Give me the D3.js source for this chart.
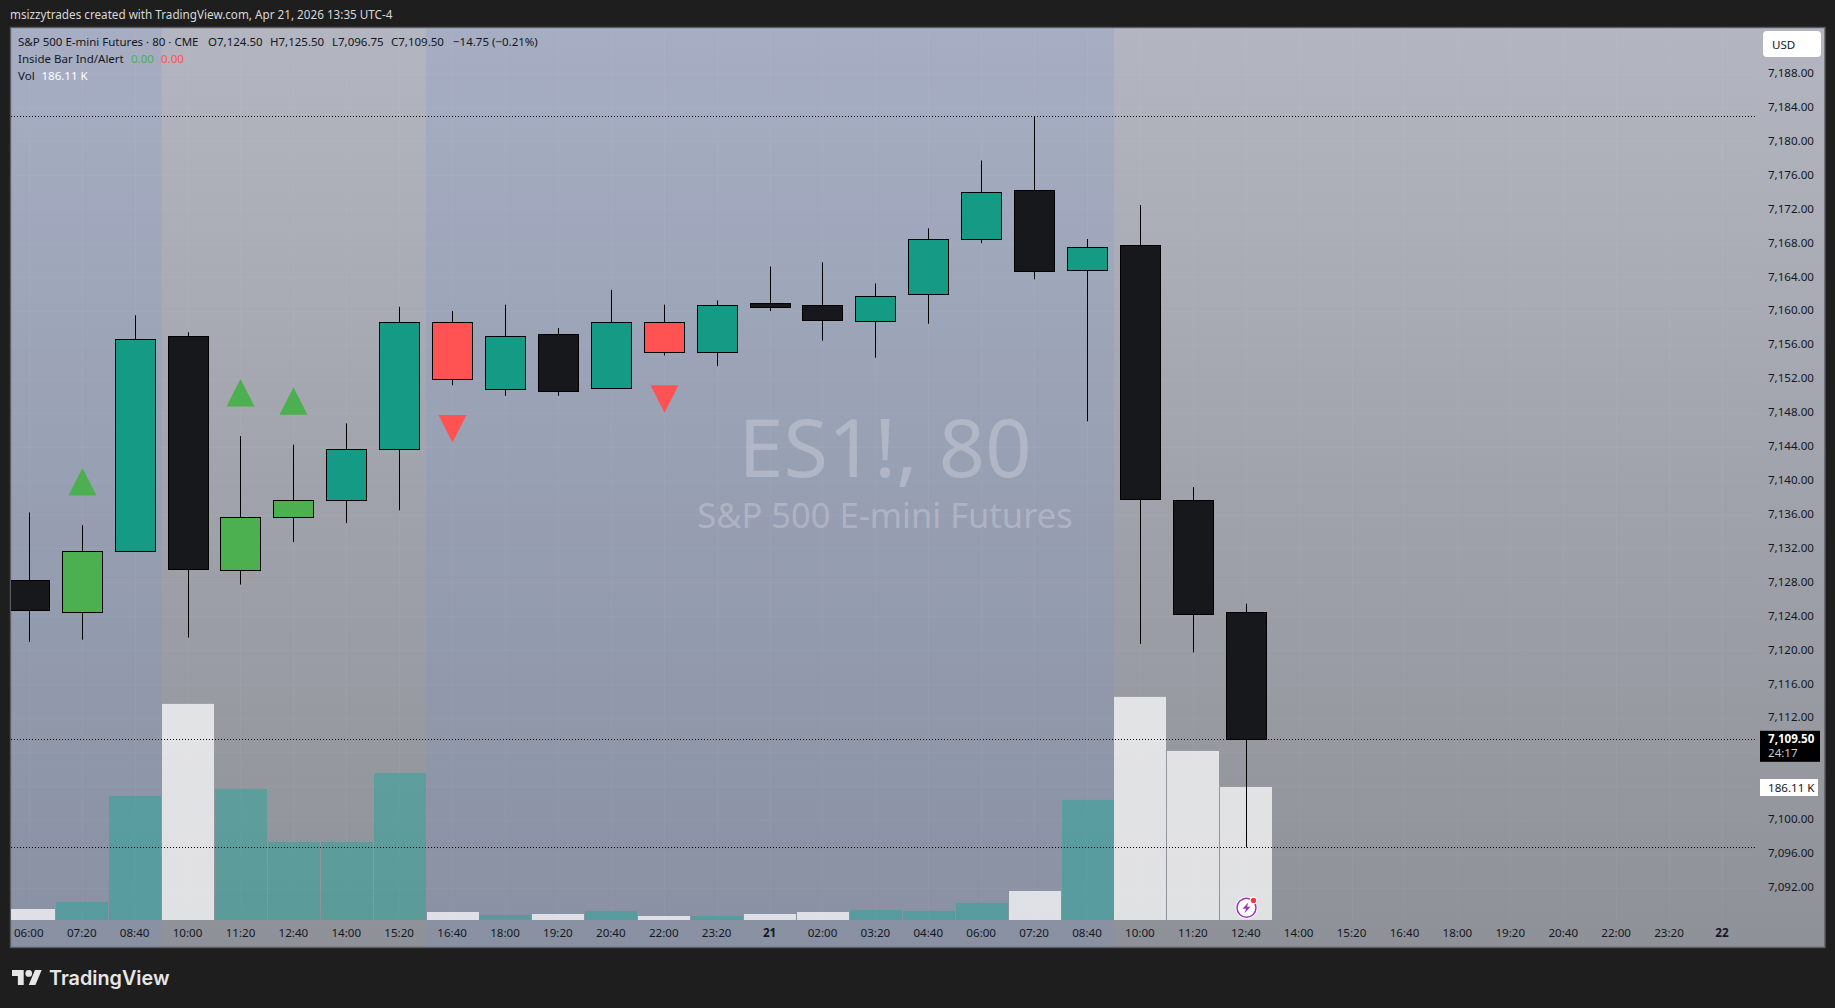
<!DOCTYPE html>
<html>
<head>
<meta charset="utf-8">
<script src="https://cdn.jsdelivr.net/npm/d3@7"></script>
<style>
html, body { margin: 0; padding: 0; background: #1e1e1e; }
svg { display: block; }
text { font-family: "Noto Sans", sans-serif; }
</style>
</head>
<body>
<svg id="chart"></svg>
<script>
const timeLabels = ["06:00","07:20","08:40","10:00","11:20","12:40","14:00","15:20","16:40","18:00","19:20","20:40","22:00","23:20","21","02:00","03:20","04:40","06:00","07:20","08:40","10:00","11:20","12:40","14:00","15:20","16:40","18:00","19:20","20:40","22:00","23:20","22"];
const dayLabels = ["21","22"];
const priceTicks = [7188,7184,7180,7176,7172,7168,7164,7160,7156,7152,7148,7144,7140,7136,7132,7128,7124,7120,7116,7112,7108,7104,7100,7096,7092];
const hiddenPriceLabels = [7108,7104];

const opens  = [7128.25,7124.5,7131.75,7157,7129.5,7135.75,7137.75,7143.75,7158.75,7150.75,7157.25,7151,7158.75,7155.25,7161,7160.75,7158.75,7162,7168.5,7174.25,7164.75,7167.75,7137.75,7124.5];
const highs  = [7136.25,7134.75,7159.5,7157.5,7145.25,7144.25,7146.75,7160.5,7160,7160.75,7158,7162.5,7160.75,7161.25,7165.25,7165.75,7163.25,7169.75,7177.75,7183,7168.5,7172.5,7139.25,7125.5];
const lows   = [7121,7121.25,7131.75,7121.5,7127.75,7132.75,7135,7136.5,7151.25,7150,7150,7151,7154.75,7153.5,7160,7156.5,7154.5,7158.5,7168,7163.75,7147,7120.75,7119.75,7096.75];
const closes = [7124.75,7131.75,7156.75,7129.5,7135.75,7137.75,7143.75,7158.75,7152,7157,7150.5,7158.75,7155.25,7160.75,7160.5,7159,7161.75,7168.5,7174,7164.75,7167.5,7137.75,7124.25,7109.5];
const volumes = [15.4,25.2,173.6,302.4,183.4,109.2,109.2,205.8,11.2,7,8.4,12.6,5.6,5.6,8.4,11.2,14,12.6,23.8,40.6,168,312.2,236.6,186.11];
const insideUpBars = [1,4,5];
const insideDownBars = [8,12];
const upMarkers = [[1,7141.5],[4,7152],[5,7151]];
const downMarkers = [[8,7144.5],[12,7148]];
const sessionBars = [[3,8],[21,33]];
const dottedPrices = [7183,7109.5,7096.75];

const width = 1835;
const height = 1008;
const PANE_LEFT = 11;
const PANE_RIGHT = 1757;
const PANE_TOP = 28;
const PANE_BOTTOM = 920;
const FRAME_BOTTOM = 947;
const FRAME_RIGHT = 1825;
const BODY_HALF = 20;
const VOL_HALF = 26;
const MARKER_HALF = 14;
const MARKER_HEIGHT = 27.5;
const INK = "#131722";

const svg = d3.select("#chart").attr("width", width).attr("height", height);

const x = d3.scaleLinear().domain([0, 32]).range([29.3, 1722.42]);
const y = d3.scaleLinear().domain([7188, 7092]).range([73.6, 887.7]);
const yVol = d3.scaleLinear().domain([0, 186.11]).range([PANE_BOTTOM, 787]);
const crispX = v => Math.floor(v) + 0.5;
const crispY = v => Math.round(v) + 0.5;

const defs = svg.append("defs");
const grad = defs.append("linearGradient").attr("id", "bg").attr("x1", 0).attr("y1", 0).attr("x2", 0).attr("y2", 1);
grad.append("stop").attr("offset", 0).attr("stop-color", "#b3b5c0");
grad.append("stop").attr("offset", 1).attr("stop-color", "#8f9198");
defs.append("clipPath").attr("id", "pane").append("rect")
   .attr("x", PANE_LEFT).attr("y", PANE_TOP)
   .attr("width", PANE_RIGHT - PANE_LEFT).attr("height", PANE_BOTTOM - PANE_TOP);

// frame + background
svg.append("rect").attr("x", 10.5).attr("y", 27.5)
   .attr("width", FRAME_RIGHT - 10.5).attr("height", FRAME_BOTTOM - 27)
   .attr("fill", "url(#bg)").attr("stroke", "#5a5b60").attr("stroke-width", 1.4);

// out of session shading
const bands = [[0, sessionBars[0][0]], [sessionBars[0][1], sessionBars[1][0]]];
svg.append("g").selectAll("rect").data(bands).enter().append("rect")
   .attr("x", d => d[0] === 0 ? PANE_LEFT : x(d[0] - 0.5))
   .attr("y", PANE_TOP)
   .attr("width", d => x(d[1] - 0.5) - (d[0] === 0 ? PANE_LEFT : x(d[0] - 0.5)))
   .attr("height", FRAME_BOTTOM - PANE_TOP)
   .attr("fill", "rgb(108,142,215)").attr("fill-opacity", 0.17);

// grid
const grid = svg.append("g").attr("stroke", "#fff").attr("stroke-opacity", 0.035);
grid.selectAll("line.h").data(priceTicks).enter().append("line").attr("class", "h")
   .attr("x1", PANE_LEFT).attr("x2", PANE_RIGHT)
   .attr("y1", d => crispY(y(d))).attr("y2", d => crispY(y(d)));
grid.selectAll("line.v").data(timeLabels).enter().append("line").attr("class", "v")
   .attr("y1", PANE_TOP).attr("y2", PANE_BOTTOM)
   .attr("x1", (d, i) => crispX(x(i))).attr("x2", (d, i) => crispX(x(i)));

// watermark
const mark = svg.append("g").attr("text-anchor", "middle").attr("fill", "#fff").attr("fill-opacity", 0.24);
mark.append("text").attr("x", 885).attr("y", 477).attr("font-size", 81).text("ES1!, 80");
mark.append("text").attr("x", 885).attr("y", 528).attr("font-size", 34.5).text("S&P 500 E-mini Futures");

const plot = svg.append("g").attr("clip-path", "url(#pane)");

// volume
plot.append("g").selectAll("rect").data(volumes).enter().append("rect")
   .attr("x", (d, i) => Math.round(x(i) - VOL_HALF))
   .attr("width", VOL_HALF * 2)
   .attr("y", d => yVol(d))
   .attr("height", d => PANE_BOTTOM - yVol(d))
   .attr("fill", (d, i) => closes[i] < opens[i] ? "rgba(255,255,255,0.72)" : "rgba(38,166,154,0.5)");

// candles
const bars = opens.map((o, i) => ({ i, o, h: highs[i], l: lows[i], c: closes[i] }));
const barColor = d => {
   if (insideUpBars.includes(d.i)) return "#4caf50";
   if (insideDownBars.includes(d.i)) return "#ff5252";
   return d.c < d.o ? "#17181b" : "#149a85";
};
const candle = plot.append("g").selectAll("g").data(bars).enter().append("g");
candle.append("line")
   .attr("x1", d => crispX(x(d.i))).attr("x2", d => crispX(x(d.i)))
   .attr("y1", d => y(d.h)).attr("y2", d => y(d.l))
   .attr("stroke", "#000").attr("stroke-width", 1);
candle.append("rect")
   .attr("x", d => crispX(x(d.i)) - BODY_HALF)
   .attr("width", BODY_HALF * 2)
   .attr("y", d => crispY(y(Math.max(d.o, d.c))))
   .attr("height", d => Math.round(Math.abs(y(d.o) - y(d.c))))
   .attr("fill", barColor).attr("stroke", "#000").attr("stroke-width", 1);

// inside bar markers
const triangle = d3.line();
plot.append("g").selectAll("path").data(upMarkers).enter().append("path")
   .attr("d", d => triangle([[crispX(x(d[0])), y(d[1])], [crispX(x(d[0])) + MARKER_HALF, y(d[1]) + MARKER_HEIGHT], [crispX(x(d[0])) - MARKER_HALF, y(d[1]) + MARKER_HEIGHT]]) + "Z")
   .attr("fill", "#4caf50");
plot.append("g").selectAll("path").data(downMarkers).enter().append("path")
   .attr("d", d => triangle([[crispX(x(d[0])), y(d[1])], [crispX(x(d[0])) + MARKER_HALF, y(d[1]) - MARKER_HEIGHT], [crispX(x(d[0])) - MARKER_HALF, y(d[1]) - MARKER_HEIGHT]]) + "Z")
   .attr("fill", "#ff5252");

// high / low / last dotted lines
svg.append("g").selectAll("line").data(dottedPrices).enter().append("line")
   .attr("x1", PANE_LEFT).attr("x2", PANE_RIGHT)
   .attr("y1", d => crispY(y(d))).attr("y2", d => crispY(y(d)))
   .attr("stroke", "#000").attr("stroke-width", 1).attr("stroke-dasharray", "1 2");

// axes
const priceAxis = d3.axisRight(y).tickValues(priceTicks).tickSize(0).tickPadding(0).offset(0)
   .tickFormat(d => hiddenPriceLabels.includes(d) ? "" : d3.format(",.2f")(d));
const priceG = svg.append("g").attr("transform", "translate(1814,0)").call(priceAxis);
priceG.select(".domain").remove();
priceG.selectAll("text").attr("text-anchor", "end").attr("dy", "0.29em")
   .attr("font-size", 11.6).attr("fill", INK).attr("font-family", '"Noto Sans"');

const timeAxis = d3.axisBottom(x).tickValues(d3.range(timeLabels.length)).tickSize(0).tickPadding(0).offset(0)
   .tickFormat(i => timeLabels[i]);
const timeG = svg.append("g").attr("transform", "translate(-0.5,929)").call(timeAxis);
timeG.select(".domain").remove();
timeG.selectAll("text").attr("y", 0).attr("dy", "0.71em")
   .attr("font-size", 11.6).attr("fill", INK).attr("font-family", '"Noto Sans"')
   .attr("font-weight", (i) => dayLabels.includes(timeLabels[i]) ? 700 : 400);

// scale badges
svg.append("rect").attr("x", 1763).attr("y", 31).attr("width", 58).attr("height", 26).attr("rx", 4).attr("fill", "#fff");
svg.append("text").attr("x", 1772).attr("y", 48.5).attr("font-size", 11.6).attr("fill", INK).text("USD");

svg.append("rect").attr("x", 1760).attr("y", y(7109.5) - 8.5).attr("width", 60).attr("height", 31).attr("fill", "#000");
svg.append("text").attr("x", 1768).attr("y", 742.5).attr("font-size", 11.6).attr("font-weight", 700).attr("fill", "#fff").text("7,109.50");
svg.append("text").attr("x", 1768).attr("y", 756.5).attr("font-size", 11.6).attr("fill", "#ccc").text("24:17");

svg.append("rect").attr("x", 1760).attr("y", 779).attr("width", 58).attr("height", 17).attr("fill", "#fff");
svg.append("text").attr("x", 1768).attr("y", 791.5).attr("font-size", 11.6).attr("fill", INK).text("186.11 K");

// legend
const legendItems = [
   ["S&P 500 E-mini Futures · 80 · CME", 18, 45.6, INK],
   ["O7,124.50", 208, 45.6, INK],
   ["H7,125.50", 270, 45.6, INK],
   ["L7,096.75", 332, 45.6, INK],
   ["C7,109.50", 391, 45.6, INK],
   ["−14.75 (−0.21%)", 453, 45.6, INK],
   ["Inside Bar Ind/Alert", 18, 62.6, INK],
   ["0.00", 131, 62.6, "#4caf50"],
   ["0.00", 161, 62.6, "#ff5252"],
   ["Vol", 18, 79.6, INK],
   ["186.11 K", 41.5, 79.6, "#fff"]
];
svg.append("g").selectAll("text").data(legendItems).enter().append("text")
   .attr("x", d => d[1]).attr("y", d => d[2]).attr("font-size", 11.5).attr("fill", d => d[3]).text(d => d[0]);

// header + footer
svg.append("text").attr("x", 10).attr("y", 19).attr("font-size", 11.7).attr("fill", "#d8d8d8")
   .text("msizzytrades created with TradingView.com, Apr 21, 2026 13:35 UTC-4");

const logo = svg.append("g").attr("transform", "translate(12,966.7) scale(0.836)").attr("fill", "#e6e6e6");
logo.append("path").attr("d", "M14 22H7V11H0V4h14v18zM28 22h-8l7.5-18h8L28 22z");
logo.append("circle").attr("cx", 20).attr("cy", 8).attr("r", 4);
svg.append("text").attr("x", 49).attr("y", 985).attr("font-size", 19.8).attr("font-weight", 600)
   .attr("fill", "#e6e6e6").style("font-family", "Inter").text("TradingView");

// alert badge on the last bar
const alertBadge = svg.append("g").attr("transform", `translate(${crispX(x(23))},907.7)`);
alertBadge.append("circle").attr("r", 11).attr("fill", "#fff");
alertBadge.append("circle").attr("r", 9.5).attr("fill", "#fff").attr("stroke", "#9c35b8").attr("stroke-width", 1.5);
alertBadge.append("path").attr("d", "M2 -5.5 L-4 1 L-0.5 1 L-2 5.5 L4 -1 L0.5 -1 Z").attr("fill", "#9c35b8");
alertBadge.append("circle").attr("cx", 7).attr("cy", -7.3).attr("r", 3.8).attr("fill", "#fff");
alertBadge.append("circle").attr("cx", 7).attr("cy", -7.3).attr("r", 2.6).attr("fill", "#f23645");
</script>
</body>
</html>
